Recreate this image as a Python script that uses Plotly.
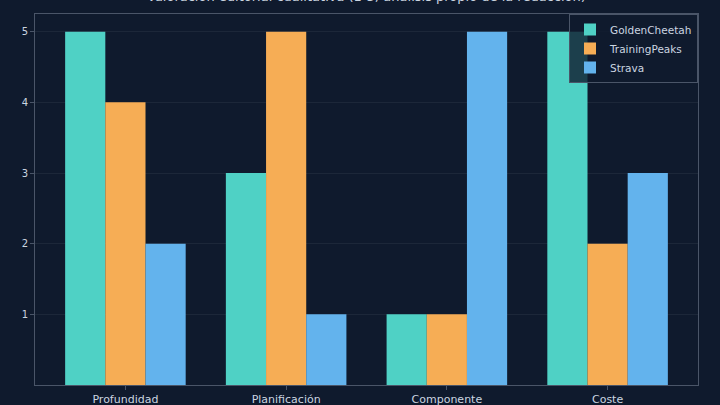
import plotly.graph_objects as go

categories = ["Profundidad", "Planificación", "Componente", "Coste"]
golden_cheetah = [5, 3, 1, 5]
training_peaks = [4, 5, 1, 2]
strava = [2, 1, 5, 3]
y_ticks = [1, 2, 3, 4, 5]

title_text = "Valoración editorial cualitativa (1-5; análisis propio de la redacción)"

bg = "#0f1a2d"
frame = "#4a5568"
text_col = "#cbd5e0"

fig = go.Figure()
fig.add_trace(go.Bar(x=categories, y=golden_cheetah, name="GoldenCheetah",
                     marker=dict(color="#4fd1c5", line=dict(width=0))))
fig.add_trace(go.Bar(x=categories, y=training_peaks, name="TrainingPeaks",
                     marker=dict(color="#f6ad55", line=dict(width=0))))
fig.add_trace(go.Bar(x=categories, y=strava, name="Strava",
                     marker=dict(color="#63b3ed", line=dict(width=0))))

fig.update_layout(
    width=720, height=405,
    barmode="group", bargap=0.25, bargroupgap=0,
    paper_bgcolor=bg, plot_bgcolor=bg,
    font=dict(family="DejaVu Sans", color=text_col, size=11),
    margin=dict(l=35, r=22, t=14, b=20, pad=0, autoexpand=False),
    showlegend=True,
    legend=dict(x=1.0, y=1.0, xanchor="right", yanchor="top",
                bgcolor="rgba(15,26,45,0.8)", bordercolor=frame, borderwidth=1,
                font=dict(size=10.5, color=text_col), tracegroupgap=0),
    xaxis=dict(range=[-0.5625, 3.5625], showgrid=False, zeroline=False,
               showline=True, linecolor=frame, mirror=True, linewidth=1,
               ticks="outside", ticklen=4, tickcolor=frame, automargin=False,
               tickfont=dict(size=11, color=text_col)),
    yaxis=dict(range=[0, 5.25], tickvals=y_ticks, showgrid=True,
               gridcolor="#1c2739", gridwidth=1, zeroline=False,
               showline=True, linecolor=frame, mirror=True, linewidth=1,
               ticks="outside", ticklen=4, tickcolor=frame, automargin=False,
               tickfont=dict(size=10, color=text_col)),
    annotations=[dict(text=title_text, xref="paper", yref="paper",
                      x=0.5, y=1.046, xanchor="center", yanchor="middle",
                      showarrow=False, font=dict(size=13, color=text_col))],
)

# page has a default 8px body margin; drop it so the figure sits at the corner
fig.write_html("out.html", config={"displayModeBar": False},
               post_script="document.body.style.margin='0';document.body.style.background='%s';" % bg)
